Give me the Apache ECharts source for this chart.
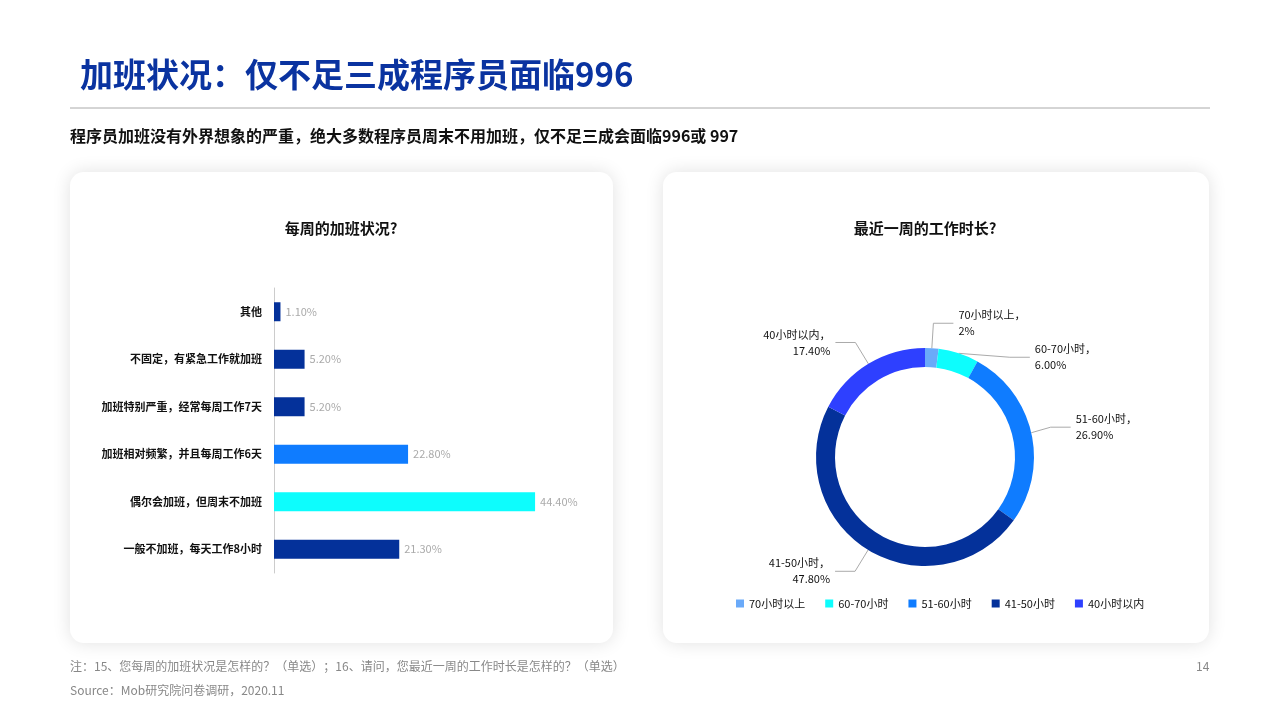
<!DOCTYPE html>
<html><head><meta charset="utf-8">
<script src="https://cdn.jsdelivr.net/npm/echarts@6/dist/echarts.min.js"></script>
<style>html,body{margin:0;padding:0;background:#fff}#c{width:1280px;height:720px}</style>
</head><body><div id="c"></div>
<script>
const barCats = ['一般不加班，每天工作8小时','偶尔会加班，但周末不加班','加班相对频繁，并且每周工作6天','加班特别严重，经常每周工作7天','不固定，有紧急工作就加班','其他'];
const barVals = [21.3, 44.4, 22.8, 5.2, 5.2, 1.1];
const barColors = ['#04319a','#0dfdfd','#0f7cff','#04319a','#04319a','#04319a'];
const pieNames = ['70小时以上','60-70小时','51-60小时','41-50小时','40小时以内'];
const pieVals = [2, 6.0, 26.9, 47.8, 17.4];
const pieValLabels = ['2%','6.00%','26.90%','47.80%','17.40%'];
const pieColors = ['#6aaaf9','#0dfdfd','#0f7cff','#04319a','#2e40ff'];

const font = '"Noto Sans CJK SC", "Noto Sans", sans-serif';
const chart = echarts.init(document.getElementById('c'));
chart.setOption({
  animation:false,
  textStyle:{fontFamily:font},
  graphic:[
    {type:'rect',shape:{x:70,y:172,width:543,height:471,r:14},style:{fill:'#fff',shadowBlur:18,shadowColor:'rgba(0,0,0,0.12)'},z:-1},
    {type:'rect',shape:{x:663,y:172,width:546,height:471,r:14},style:{fill:'#fff',shadowBlur:18,shadowColor:'rgba(0,0,0,0.12)'},z:-1},
    {type:'text',left:80,top:58,style:{text:'加班状况：仅不足三成程序员面临996',fill:'#0a33a0',font:'bold 33px '+font}},
    {type:'line',shape:{x1:70,y1:108,x2:1210,y2:108},style:{stroke:'#aaa',lineWidth:1}},
    {type:'text',left:70,top:128,style:{text:'程序员加班没有外界想象的严重，绝大多数程序员周末不用加班，仅不足三成会面临996或 997',fill:'#111',font:'bold 16px '+font}},
    {type:'text',x:341,y:228,style:{text:'每周的加班状况?',fill:'#111',font:'bold 15px '+font,textAlign:'center',textVerticalAlign:'middle'}},
    {type:'text',x:925,y:228,style:{text:'最近一周的工作时长?',fill:'#111',font:'bold 15px '+font,textAlign:'center',textVerticalAlign:'middle'}},
    {type:'text',left:70,top:660,style:{text:'注：15、您每周的加班状况是怎样的？（单选）；16、请问，您最近一周的工作时长是怎样的？（单选）',fill:'#888',font:'12px '+font}},
    {type:'text',left:70,top:684,style:{text:'Source：Mob研究院问卷调研，2020.11',fill:'#888',font:'12px '+font}},
    {type:'text',left:1196,top:660,style:{text:'14',fill:'#888',font:'12px '+font}}
  ],
  grid:{left:274,top:288,width:294,height:285},
  xAxis:{type:'value',min:0,max:50,show:false},
  yAxis:{type:'category',data:barCats,axisTick:{show:false},axisLine:{lineStyle:{color:'#ccc'}},
    axisLabel:{color:'#111',fontWeight:'bold',fontSize:11,margin:12}},
  legend:{bottom:106,left:'center',itemWidth:8,itemHeight:8,itemGap:20,icon:'rect',
    data:pieNames,textStyle:{fontSize:11,color:'#111'},left:731},
  series:[
    {type:'bar',barWidth:19,data:barVals.map((v,i)=>({value:v,itemStyle:{color:barColors[i]}})),
     label:{show:true,position:'right',color:'#aaa',fontSize:11,formatter:p=>p.value.toFixed(2)+'%'}},
    {type:'pie',center:[925,457],radius:[90,109],startAngle:90,
     data:pieNames.map((n,i)=>({name:n,value:pieVals[i],itemStyle:{color:pieColors[i]}})),
     label:{color:'#111',fontSize:11,lineHeight:16,align:'center',formatter:p=>p.name+'，\n'+pieValLabels[p.dataIndex]},
     labelLine:{lineStyle:{color:'#aaa'},length:25,length2:20}}
  ]
});
</script></body></html>
